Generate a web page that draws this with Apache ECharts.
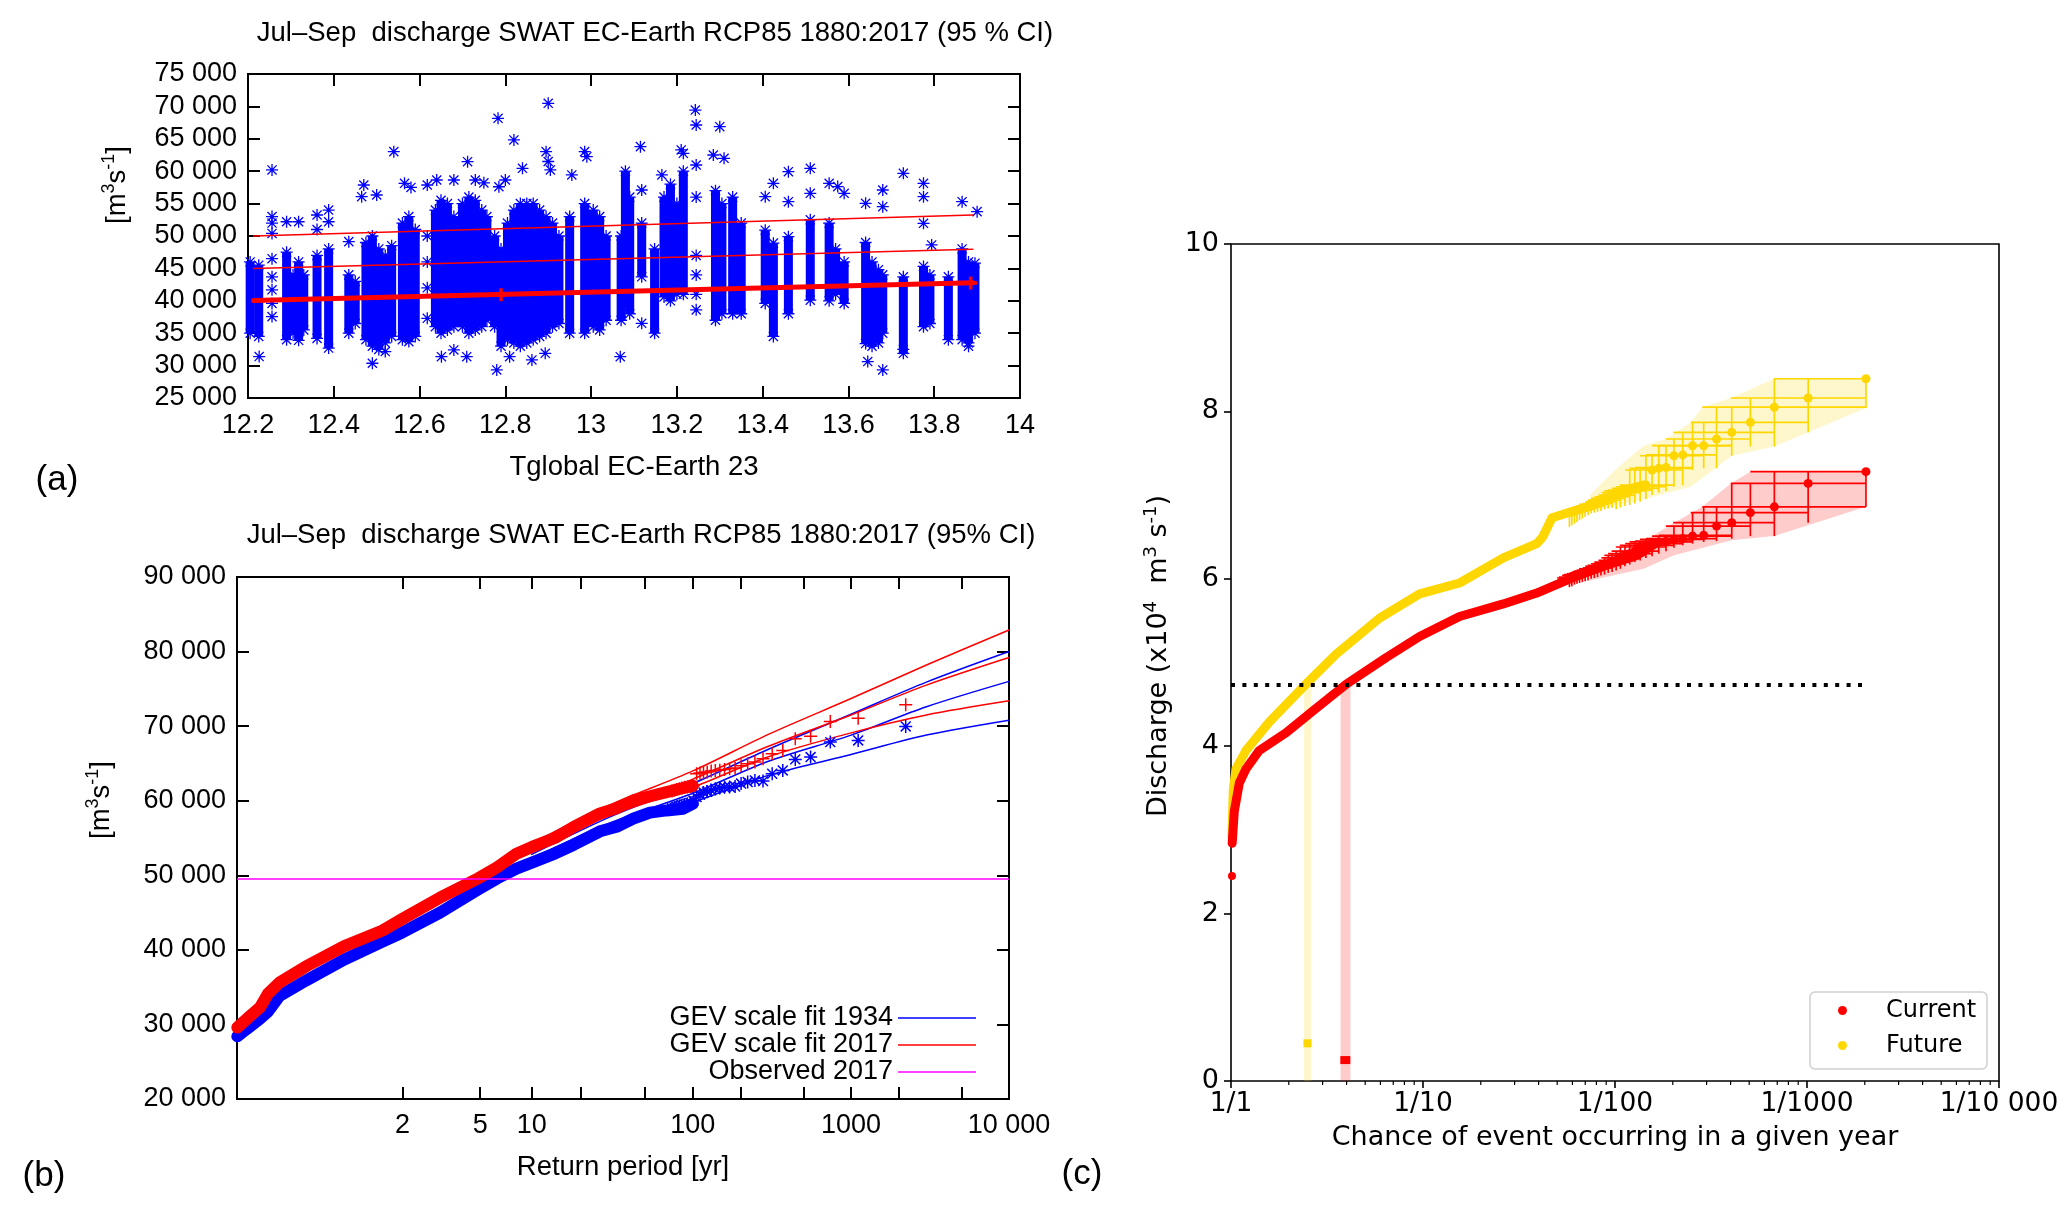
<!DOCTYPE html>
<html>
<head>
<meta charset="utf-8">
<title>Jul–Sep discharge</title>
<script src="https://cdn.jsdelivr.net/npm/echarts@6/dist/echarts.min.js"></script>
<style>
html,body{margin:0;padding:0;background:#ffffff;}
#chart{width:2067px;height:1218px;}
</style>
</head>
<body>
<div id="chart"></div>
<script>
// ================= Panel (a) data =================
const aXTicks = [12.2, 12.4, 12.6, 12.8, 13, 13.2, 13.4, 13.6, 13.8, 14];
const aYTicks = [25000, 30000, 35000, 40000, 45000, 50000, 55000, 60000, 65000, 70000, 75000];
// dense columns of ensemble members: x (Tglobal), lowest and highest value of the dense part
const aColX  = [12.205,12.225,12.29,12.305,12.318,12.33,12.361,12.388,12.435,12.45,12.475,12.49,12.505,12.52,12.535,12.56,12.575,12.59,12.637,12.65,12.665,12.68,12.70,12.715,12.73,12.745,12.757,12.775,12.79,12.805,12.82,12.835,12.85,12.865,12.88,12.895,12.91,12.925,12.95,12.985,13.005,13.02,13.035,13.07,13.08,13.09,13.118,13.148,13.17,13.185,13.2,13.215,13.29,13.305,13.33,13.35,13.406,13.425,13.46,13.511,13.555,13.57,13.59,13.64,13.655,13.67,13.68,13.728,13.775,13.79,13.833,13.865,13.88,13.895];
const aColLo = [35000,34500,34000,35000,33900,35500,34200,32700,35000,36500,34000,33000,32500,33500,34500,34000,33700,34500,36000,35000,35500,36000,36000,35000,35500,36000,37000,36000,33000,34000,33500,33000,33500,34000,34500,35000,36000,36500,35000,35000,36000,35500,37000,37000,40000,38000,43700,35000,40600,40000,41000,41000,37000,38000,38000,38000,39600,34500,38000,40100,40000,41000,39600,33400,33000,33500,35000,31900,36000,36500,34000,34000,33500,35000];
const aColHi = [46000,45500,47500,44000,46000,44000,47000,48000,44000,43000,49000,50000,48000,47000,48500,52000,53000,51000,54000,55500,55000,53000,55000,56000,55500,54000,53000,50000,48000,52000,54000,55000,55000,55000,54000,53000,52000,50000,53000,55000,54000,53000,50000,50000,60000,56000,52000,48000,56000,58000,55000,60000,57000,55000,56000,52000,50900,48900,49900,52500,52000,48000,46000,49000,46000,44800,44000,43700,45300,44000,43700,48000,46000,45800];
// individual (sparse / outlying) members
const aPtX = [12.226,12.256,12.256,12.256,12.256,12.256,12.256,12.256,12.256,12.256,12.29,12.318,12.361,12.361,12.388,12.388,12.435,12.47,12.465,12.5,12.54,12.49,12.52,12.565,12.58,12.618,12.618,12.618,12.618,12.618,12.64,12.651,12.68,12.68,12.712,12.71,12.73,12.75,12.783,12.78,12.785,12.8,12.81,12.82,12.84,12.862,12.893,12.895,12.9,12.9,12.905,12.955,12.985,12.99,13.068,13.115,13.118,13.118,13.165,13.21,13.215,13.243,13.245,13.245,13.245,13.245,13.245,13.245,13.245,13.285,13.3,13.31,13.406,13.425,13.46,13.46,13.511,13.511,13.555,13.575,13.59,13.64,13.68,13.68,13.645,13.68,13.728,13.728,13.775,13.775,13.775,13.794,13.865,13.9,13.88];
const aPtY = [31400,60190,53000,52000,50400,46500,43700,41700,39600,37560,52200,52200,53240,51000,54000,52200,49130,57870,56070,56330,63020,30360,32160,58130,57500,57870,50000,46000,42000,37300,58640,31380,32420,58640,61470,31380,58640,58200,68160,29330,57600,58640,31380,64820,60450,30870,31900,63020,70470,61500,60200,59420,63020,62240,31380,63790,57100,36530,59420,63280,62760,69440,67130,60960,56000,47000,44000,41000,38600,62500,66870,61990,56070,58130,59930,55300,60450,56590,58130,57620,56590,55040,57100,54530,30620,29330,59670,32500,58130,56070,51960,48620,55300,53760,33000];
// red regression lines
const aLineX = [12.213, 13.89];
const aLineCentral = [40030, 42800];
const aLineMiddle = [45000, 47950];
const aLineUpper = [50000, 53250];
const aMarkX = [12.79, 13.885];
const aMarkY = [40950, 42750];

// ================= Panel (b) data =================
const bTickT = [2, 5, 10, 20, 50, 100, 200, 500, 1000, 2000, 5000, 10000];
const bLabelT = [2, 5, 10, 100, 1000, 10000];
const bYTicks = [20000, 30000, 40000, 50000, 60000, 70000, 80000, 90000];
const bTMin = 1.000433, bTMax = 10000;
const bDenseT = [1.00045,1.001,1.0015,1.004,1.0072,1.0155,1.063,1.247,1.655,1.984,3.025,4.873,6.27,8.11,10.02,13.79,18.04,26.2,33.2,42.2,53.7,68.3,86.8,100];
const bDenseRed = [29600,30500,31000,32300,34100,35600,37800,40500,42600,44100,47000,49600,51100,52900,53800,55000,56500,58300,59000,60040,60600,61160,61700,62000];
const bDenseBlue = [28400,29200,29600,30800,31700,33800,35900,38700,41100,42300,45000,48100,49600,50900,51700,52900,54100,55900,56500,57590,58400,58700,58930,59600];
const bTailT = [2218,1109,739,554.5,443.6,369.7,316.9,277.3,246.4,221.8,201.6,184.8,170.6,158.4,147.9,138.6,130.5,123.2,116.7,110.9,105.6,100.8,96.4,92.4,88.7,85.3,82.1,79.2,76.5,73.9];
const bTailRed = [72860,71070,70630,68660,68300,66740,66300,65630,65180,64960,64700,64400,64300,64200,64100,64050,64000,63850,63800,63700,63600,62000,61900,61850,61800,61700,61600,61500,61400,61300];
const bTailBlue = [69960,68080,67860,65850,65540,64060,63620,62630,62720,62500,62300,61900,61850,61800,61700,61600,61400,61200,61100,60800,60500,60000,59700,59600,59500,59400,59300,59200,59100,59000];
const bFitT = [10, 30, 100, 300, 1000, 3000, 10000];
const bRedHi  = [54300,59400,64000,68900,73700,78200,82900];
const bRedMid = [53800,58600,62900,67300,71500,75500,79200];
const bRedLo  = [53200,58000,61800,65900,69100,71500,73400];
const bBlueHi  = [52800,57800,62300,66900,71600,75900,80000];
const bBlueMid = [52300,57000,61000,65300,68800,72600,76000];
const bBlueLo  = [51800,56300,59800,63400,66200,68800,70800];
const bObserved = 49500;

// ================= Panel (c) data =================
const cXTicks = [1, 10, 100, 1000, 10000];
const cXMinor = [2,3,4,5,6,7,8,9,20,30,40,50,60,70,80,90,200,300,400,500,600,700,800,900,2000,3000,4000,5000,6000,7000,8000,9000];
const cYTicks = [0, 2, 4, 6, 8, 10];
const cRedDenseT = [1.014,1.04,1.105,1.198,1.405,1.936,2.667,3.98,6.44,9.6,15.5,26.2,39.1,58.3,86.9,130,165];
const cRedDense  = [2.84,3.22,3.56,3.73,3.95,4.16,4.42,4.74,5.06,5.31,5.55,5.70,5.83,6.00,6.15,6.28,6.43];
const cRedLowT = [1.012];
const cRedLow  = [2.45];
const cGoldDenseT = [1.012,1.028,1.062,1.198,1.585,2.45,3.53,5.94,9.6,15.5,26.2,39.1,42,47,74,110,141];
const cGoldDense  = [2.92,3.48,3.73,3.95,4.29,4.74,5.10,5.53,5.82,5.95,6.25,6.42,6.50,6.73,6.87,7.05,7.12];
// ranked tail (return period = N/rank) with confidence bars
const cTailT = [2028,1014,676,507,405.6,338,289.7,253.5,225.3,202.8,184.4,169,156,144.9,135.2,126.8,119.3,112.7,106.7,101.4,96.6,92.2,88.2,84.5,81.1,78.0,75.1,72.4,69.9,67.6,65.4,63.4,61.5,59.6,57.9];
const cTailTLo = [673,401,285,248,201,184,169,156,145,135,127,119,113,106,101,96,92,88,85,82,78,75,72,70,68,65,63,61,60,58,56,54,53,51,50];
const cTailTHi = [2028,2028,2028,1014,676,507,406,406,338,290,254,254,225,203,184,169,156,145,135,127,119,113,107,101,97,92,88,85,81,78,75,72,70,68,66];
const cGoldTail = [8.39,8.16,8.05,7.87,7.75,7.67,7.59,7.59,7.48,7.47,7.33,7.32,7.30,7.12,7.10,7.08,7.06,7.05,7.03,7.00,6.98,6.96,6.94,6.92,6.90,6.89,6.87,6.86,6.85,6.84,6.83,6.82,6.81,6.80,6.79];
const cGoldVLo  = [8.04,7.75,7.58,7.58,7.47,7.32,7.32,7.30,7.12,7.10,7.05,7.03,7.00,6.95,6.92,6.90,6.88,6.87,6.85,6.83,6.85,6.84,6.83,6.81,6.80,6.79,6.78,6.76,6.74,6.72,6.70,6.68,6.66,6.64,6.62];
const cGoldVHi  = [8.39,8.39,8.39,8.16,8.05,8.05,7.87,7.87,7.75,7.67,7.59,7.59,7.48,7.47,7.33,7.32,7.30,7.12,7.10,7.08,7.06,7.05,7.03,7.00,6.98,6.96,6.94,6.92,6.90,6.89,6.87,6.86,6.85,6.84,6.83];
const cRedTLo  = [507,401,285,248,201,184,169,156,145,135,127,119,113,106,101,96,92,88,85,82,78,75,72,70,68,65,63,61,60,58,56,54,53,51,50];
const cRedTail = [7.28,7.14,6.86,6.79,6.67,6.63,6.52,6.51,6.48,6.47,6.45,6.44,6.42,6.40,6.38,6.33,6.30,6.28,6.25,6.22,6.20,6.18,6.16,6.15,6.13,6.12,6.10,6.09,6.08,6.07,6.06,6.05,6.04,6.02,6.01];
const cRedVLo  = [6.86,6.67,6.51,6.51,6.48,6.45,6.44,6.42,6.40,6.37,6.33,6.30,6.27,6.25,6.22,6.20,6.17,6.15,6.12,6.10,6.08,6.07,6.05,6.04,6.02,6.01,6.00,5.98,5.97,5.96,5.95,5.94,5.93,5.91,5.90];
const cRedVHi  = [7.28,7.28,7.28,7.14,7.14,6.86,6.86,6.79,6.67,6.63,6.52,6.51,6.48,6.47,6.45,6.44,6.42,6.40,6.38,6.33,6.30,6.28,6.25,6.22,6.20,6.18,6.16,6.15,6.13,6.12,6.10,6.09,6.08,6.07,6.06];
const cGoldBandHiT = [74,100,141,184,248,285,401,673,2028];
const cGoldBandHi  = [7.0,7.30,7.59,7.67,7.87,8.05,8.16,8.39,8.39];
const cGoldBandLoT = [74,141,248,406,676,2028];
const cGoldBandLo  = [6.80,6.95,7.10,7.47,7.58,8.04];
const cRedBandHiT = [74,100,141,203,285,401,507,2028];
const cRedBandHi  = [6.15,6.30,6.45,6.67,6.86,7.14,7.28,7.28];
const cRedBandLoT = [74,141,203,406,676,2028];
const cRedBandLo  = [5.98,6.12,6.28,6.46,6.51,6.86];
const cThreshold = 4.73;
const cThreshT = [1, 1950];
const cGoldCI = [2.40, 2.62];
const cRedCI = [3.72, 4.19];
const cGoldEst = [2.5, 0.45];
const cRedEst = [3.94, 0.25];

// ================= helpers =================
const GNU = 'Liberation Sans, Arial, sans-serif';
const MPL = 'DejaVu Sans, sans-serif';
const BLK = '#000000';
const RED = '#ff0000', BLUE = '#0000ff', GOLD = '#ffd700', MAG = '#ff00ff';
const STAR = 'path://M5 0L5 10M0 5L10 5M1.2 1.2L8.8 8.8M1.2 8.8L8.8 1.2';
const PLUS = 'path://M5 0L5 10M0 5L10 5';
const fmt = v => String(v).replace(/\B(?=(\d{3})+(?!\d))/g, ' ');
const fmt5 = v => (v >= 10000 ? fmt(v) : String(v));
const gum = T => -Math.log(-Math.log(1 - 1 / T));
const invGum = g => 1 / (1 - Math.exp(-Math.exp(-g)));
const zip = (xs, ys) => xs.map((x, i) => [x, ys[i]]);
const zipG = (ts, ys) => ts.map((t, i) => [gum(t), ys[i]]);

const gnuTick = {show: true, inside: true, length: 12, lineStyle: {color: BLK, width: 2}};
const noLine = {show: false, onZero: false};
const noSplit = {show: false};

function sym(data, symbol, size, color, bw, xi, yi, z) {
  return {type: 'scatter', xAxisIndex: xi, yAxisIndex: yi, data: data, symbol: symbol,
    symbolSize: size, symbolKeepAspect: true, silent: true, z: z || 3,
    itemStyle: {color: 'rgba(0,0,0,0)', borderColor: color, borderWidth: bw, opacity: 1}};
}
function line(data, color, width, xi, yi, z, extra) {
  return Object.assign({type: 'line', xAxisIndex: xi, yAxisIndex: yi, data: data, showSymbol: false,
    symbol: 'none', silent: true, z: z || 3,
    lineStyle: {color: color, width: width, cap: 'round', join: 'round'}}, extra || {});
}
function poly(hiT, hiV, loT, loV, color) {
  return {type: 'custom', xAxisIndex: 4, yAxisIndex: 4, silent: true, clip: false, z: 1,
    data: [[hiT[0], hiV[0]]], encode: {x: 0, y: 1},
    renderItem: function (params, api) {
      const pts = [];
      hiT.forEach((t, i) => pts.push(api.coord([t, hiV[i]])));
      for (let i = loT.length - 1; i >= 0; i--) pts.push(api.coord([loT[i], loV[i]]));
      return {type: 'polygon', shape: {points: pts}, style: {fill: color}};
    }};
}
function errBars(T, V, tl, th, vl, vh, color) {
  return {type: 'custom', xAxisIndex: 4, yAxisIndex: 4, silent: true, clip: false, z: 4,
    data: T.map((t, i) => [t, V[i], tl[i], th[i], vl[i], vh[i]]),
    encode: {x: [0, 2, 3], y: [1, 4, 5]},
    renderItem: function (params, api) {
      const t = api.value(0), v = api.value(1);
      const a = api.coord([api.value(2), v]), b = api.coord([api.value(3), v]);
      const c = api.coord([t, api.value(4)]), d = api.coord([t, api.value(5)]);
      return {type: 'group', children: [
        {type: 'line', shape: {x1: a[0], y1: a[1], x2: b[0], y2: b[1]}, style: {stroke: color, lineWidth: 1.7}},
        {type: 'line', shape: {x1: c[0], y1: c[1], x2: d[0], y2: d[1]}, style: {stroke: color, lineWidth: 1.7}}
      ]};
    }};
}

const series = [];
// ---------- panel (a) ----------
series.push({type: 'custom', xAxisIndex: 0, yAxisIndex: 0, silent: true, z: 2,
  data: aColX.map((x, i) => [x, aColLo[i], aColHi[i]]), encode: {x: 0, y: [1, 2]},
  renderItem: function (params, api) {
    const top = api.coord([api.value(0), api.value(2)]);
    const bot = api.coord([api.value(0), api.value(1)]);
    return {type: 'rect', shape: {x: top[0] - 4.5, y: top[1], width: 9, height: bot[1] - top[1]},
      style: {fill: BLUE}};
  }});
series.push(sym(aColX.map((x, i) => [x, aColLo[i]]).concat(aColX.map((x, i) => [x, aColHi[i]])), STAR, 12, BLUE, 1.3, 0, 0, 3));
series.push(sym(zip(aPtX, aPtY), STAR, 12, BLUE, 1.3, 0, 0, 3));
series.push(line(zip(aLineX, aLineUpper), RED, 1.5, 0, 0, 5));
series.push(line(zip(aLineX, aLineMiddle), RED, 1.5, 0, 0, 5));
series.push(line(zip(aLineX, aLineCentral), RED, 5, 0, 0, 5));
series.push(sym(zip(aMarkX, aMarkY), PLUS, 13, RED, 3.5, 0, 0, 6));

// ---------- panel (b) ----------
[[bBlueHi, BLUE], [bBlueMid, BLUE], [bBlueLo, BLUE], [bRedHi, RED], [bRedMid, RED], [bRedLo, RED]].forEach(p => {
  series.push(line(zipG(bFitT, p[0]), p[1], 1.5, 2, 2, 2, {smooth: 0.3}));
});
series.push(line(zipG(bDenseT, bDenseBlue), BLUE, 12, 2, 2, 3));
series.push(sym(zipG(bTailT, bTailBlue), STAR, 13, BLUE, 1.5, 2, 2, 3));
series.push(line(zipG(bDenseT, bDenseRed), RED, 12, 2, 2, 4));
series.push(sym(zipG(bTailT, bTailRed), PLUS, 13, RED, 1.5, 2, 2, 4));
series.push(line([[gum(bTMin), bObserved], [gum(bTMax), bObserved]], MAG, 1.5, 2, 2, 6, {lineStyle: {color: MAG, width: 1.5, cap: 'butt'}}));

// ---------- panel (c) ----------
series.push(poly(cGoldBandHiT, cGoldBandHi, cGoldBandLoT, cGoldBandLo, 'rgba(255,215,0,0.2)'));
series.push(poly(cRedBandHiT, cRedBandHi, cRedBandLoT, cRedBandLo, 'rgba(255,0,0,0.2)'));
series.push({type: 'custom', xAxisIndex: 4, yAxisIndex: 4, silent: true, clip: false, z: 1,
  data: [[cGoldCI[0], cGoldCI[1], cThreshold, 0], [cRedCI[0], cRedCI[1], cThreshold, 1]],
  encode: {x: [0, 1], y: 2},
  renderItem: function (params, api) {
    const a = api.coord([api.value(0), api.value(2)]);
    const b = api.coord([api.value(1), 0]);
    const col = api.value(3) === 0 ? 'rgba(255,215,0,0.2)' : 'rgba(255,0,0,0.2)';
    return {type: 'rect', shape: {x: a[0], y: a[1], width: b[0] - a[0], height: b[1] - a[1]}, style: {fill: col}};
  }});
series.push(line(zip(cGoldDenseT, cGoldDense), GOLD, 9, 4, 4, 3));
series.push(line(zip(cRedDenseT, cRedDense), RED, 9, 4, 4, 3));
series.push({type: 'scatter', xAxisIndex: 4, yAxisIndex: 4, silent: true, z: 3, symbol: 'circle', symbolSize: 8,
  data: zip(cRedLowT, cRedLow), itemStyle: {color: RED, opacity: 1}});
series.push(errBars(cTailT, cGoldTail, cTailTLo, cTailTHi, cGoldVLo, cGoldVHi, GOLD));
series.push(errBars(cTailT, cRedTail, cRedTLo, cTailTHi, cRedVLo, cRedVHi, RED));
series.push({type: 'scatter', xAxisIndex: 4, yAxisIndex: 4, silent: true, z: 5, symbol: 'circle', symbolSize: 9,
  data: zip(cTailT, cGoldTail), itemStyle: {color: GOLD, opacity: 1}});
series.push({type: 'scatter', xAxisIndex: 4, yAxisIndex: 4, silent: true, z: 5, symbol: 'circle', symbolSize: 9,
  data: zip(cTailT, cRedTail), itemStyle: {color: RED, opacity: 1}});
series.push(line([[cThreshT[0], cThreshold], [cThreshT[1], cThreshold]], BLK, 4, 4, 4, 7,
  {lineStyle: {color: BLK, width: 4, type: [4, 7.4], cap: 'butt'}}));
series.push({type: 'scatter', xAxisIndex: 4, yAxisIndex: 4, silent: true, z: 6, symbol: 'rect', symbolSize: [8, 8],
  data: [cGoldEst], itemStyle: {color: GOLD, opacity: 1}});
series.push({type: 'scatter', xAxisIndex: 4, yAxisIndex: 4, silent: true, z: 6, symbol: 'rect', symbolSize: [10, 8],
  data: [cRedEst], itemStyle: {color: RED, opacity: 1}});
// minor log ticks (bottom, outward)
series.push({type: 'custom', xAxisIndex: 4, yAxisIndex: 4, silent: true, clip: false, z: 8,
  data: cXMinor.map(t => [t, 0]), encode: {x: 0, y: 1},
  renderItem: function (params, api) {
    const p = api.coord([api.value(0), 0]);
    return {type: 'line', shape: {x1: p[0], y1: p[1], x2: p[0], y2: p[1] + 4}, style: {stroke: BLK, lineWidth: 1.2}};
  }});

// ---------- axes ----------
const gnuLabel = {show: true, color: BLK, fontFamily: GNU, fontSize: 27, hideOverlap: false};
const xAxis = [
  {gridIndex: 0, type: 'value', position: 'bottom', min: aXTicks[0], max: aXTicks[aXTicks.length - 1],
    axisLine: noLine, axisTick: Object.assign({customValues: aXTicks}, gnuTick),
    axisLabel: Object.assign({margin: 14, customValues: aXTicks, formatter: v => String(Math.round(v * 10) / 10)}, gnuLabel),
    splitLine: noSplit},
  {gridIndex: 0, type: 'value', position: 'top', min: aXTicks[0], max: aXTicks[aXTicks.length - 1],
    axisLine: noLine, axisTick: Object.assign({customValues: aXTicks}, gnuTick), axisLabel: {show: false}, splitLine: noSplit},
  {gridIndex: 1, type: 'value', position: 'bottom', min: gum(bTMin), max: gum(bTMax), axisLine: noLine,
    axisTick: Object.assign({customValues: bTickT.map(gum)}, gnuTick),
    axisLabel: Object.assign({margin: 13, customValues: bLabelT.map(gum),
      formatter: v => fmt5(Math.round(invGum(v)))}, gnuLabel), splitLine: noSplit},
  {gridIndex: 1, type: 'value', position: 'top', min: gum(bTMin), max: gum(bTMax), axisLine: noLine,
    axisTick: Object.assign({customValues: bTickT.map(gum)}, gnuTick), axisLabel: {show: false}, splitLine: noSplit},
  {gridIndex: 2, type: 'log', logBase: 10, position: 'bottom', min: cXTicks[0], max: cXTicks[cXTicks.length - 1],
    axisLine: noLine, axisTick: {show: true, inside: false, length: 7, lineStyle: {color: BLK, width: 1.6}},
    axisLabel: {show: true, color: BLK, fontFamily: MPL, fontSize: 26.5, margin: 10, hideOverlap: false,
      formatter: v => '1/' + fmt5(Math.round(v))},
    splitLine: noSplit, minorTick: {show: false}}
];
const yAxis = [
  {gridIndex: 0, type: 'value', position: 'left', min: aYTicks[0], max: aYTicks[aYTicks.length - 1],
    interval: aYTicks[1] - aYTicks[0], axisLine: noLine, axisTick: gnuTick,
    axisLabel: Object.assign({margin: 11, formatter: v => fmt(v)}, gnuLabel), splitLine: noSplit},
  {gridIndex: 0, type: 'value', position: 'right', min: aYTicks[0], max: aYTicks[aYTicks.length - 1],
    interval: aYTicks[1] - aYTicks[0], axisLine: noLine, axisTick: gnuTick, axisLabel: {show: false}, splitLine: noSplit},
  {gridIndex: 1, type: 'value', position: 'left', min: bYTicks[0], max: bYTicks[bYTicks.length - 1],
    interval: bYTicks[1] - bYTicks[0], axisLine: noLine, axisTick: gnuTick,
    axisLabel: Object.assign({margin: 11, formatter: v => fmt(v)}, gnuLabel), splitLine: noSplit},
  {gridIndex: 1, type: 'value', position: 'right', min: bYTicks[0], max: bYTicks[bYTicks.length - 1],
    interval: bYTicks[1] - bYTicks[0], axisLine: noLine, axisTick: gnuTick, axisLabel: {show: false}, splitLine: noSplit},
  {gridIndex: 2, type: 'value', position: 'left', min: cYTicks[0], max: cYTicks[cYTicks.length - 1],
    interval: cYTicks[1] - cYTicks[0], axisLine: noLine,
    axisTick: {show: true, inside: false, length: 7, lineStyle: {color: BLK, width: 1.6}},
    axisLabel: {show: true, color: BLK, fontFamily: MPL, fontSize: 27, margin: 12, hideOverlap: false},
    splitLine: noSplit}
];

// ---------- texts ----------
function txt(x, y, text, size, family, align, rot, rich) {
  const st = {text: text, fill: BLK, fontSize: size, fontFamily: family,
    align: align || 'center', textAlign: align || 'center', verticalAlign: 'middle', textVerticalAlign: 'middle'};
  if (rich) st.rich = rich;
  return {type: 'text', x: x, y: y, rotation: rot || 0, silent: true, z: 100, style: st};
}
function supRich(size, family) {
  return {n: {fontSize: size, fontFamily: family, fill: BLK, lineHeight: size + 6, verticalAlign: 'middle'},
          s: {fontSize: Math.round(size * 0.66), fontFamily: family, fill: BLK, lineHeight: Math.round(size * 0.7), verticalAlign: 'top'}};
}
const graphic = [
  txt(655, 33, 'Jul–Sep  discharge SWAT EC-Earth RCP85 1880:2017 (95 % CI)', 27.5, GNU),
  txt(634, 467, 'Tglobal EC-Earth 23', 27.5, GNU),
  txt(117, 185, '{n|[m}{s|3}{n|s}{s|-1}{n|]}', 27.5, GNU, 'center', Math.PI / 2, supRich(27.5, GNU)),
  txt(57, 480, '(a)', 35, GNU),
  txt(641, 535, 'Jul–Sep  discharge SWAT EC-Earth RCP85 1880:2017 (95% CI)', 27.5, GNU),
  txt(623, 1167, 'Return period [yr]', 27.5, GNU),
  txt(101, 800, '{n|[m}{s|3}{n|s}{s|-1}{n|]}', 27.5, GNU, 'center', Math.PI / 2, supRich(27.5, GNU)),
  txt(44, 1176, '(b)', 35, GNU),
  txt(893, 1018, 'GEV scale fit 1934', 27, GNU, 'right'),
  txt(893, 1045, 'GEV scale fit 2017', 27, GNU, 'right'),
  txt(893, 1072, 'Observed 2017', 27, GNU, 'right'),
  {type: 'line', silent: true, z: 100, shape: {x1: 898, y1: 1018, x2: 976, y2: 1018}, style: {stroke: BLUE, lineWidth: 1.5}},
  {type: 'line', silent: true, z: 100, shape: {x1: 898, y1: 1045, x2: 976, y2: 1045}, style: {stroke: RED, lineWidth: 1.5}},
  {type: 'line', silent: true, z: 100, shape: {x1: 898, y1: 1072, x2: 976, y2: 1072}, style: {stroke: MAG, lineWidth: 1.5}},
  txt(1615, 1138, 'Chance of event occurring in a given year', 27, MPL),
  txt(1159, 656, '{n|Discharge (x10}{s|4}{n|  m}{s|3}{n| s}{s|-1}{n|)}', 27, MPL, 'center', Math.PI / 2, supRich(27, MPL)),
  txt(1082, 1174, '(c)', 35, GNU),
  {type: 'rect', silent: true, z: 100, shape: {x: 1810, y: 992, width: 177, height: 77, r: 5},
    style: {fill: 'rgba(255,255,255,0.85)', stroke: '#d0d0d0', lineWidth: 1.5}},
  {type: 'circle', silent: true, z: 101, shape: {cx: 1842.5, cy: 1010.5, r: 4.5}, style: {fill: RED}},
  {type: 'circle', silent: true, z: 101, shape: {cx: 1842.5, cy: 1045.5, r: 4.5}, style: {fill: GOLD}},
  txt(1886, 1010.5, 'Current', 24, MPL, 'left'),
  txt(1886, 1045.5, 'Future', 24, MPL, 'left')
];

const option = {
  animation: false,
  backgroundColor: '#ffffff',
  grid: [
    {left: 248, top: 74, width: 772, height: 324, show: true, borderColor: BLK, borderWidth: 2, backgroundColor: 'rgba(0,0,0,0)', outerBoundsMode: 'none', containLabel: false},
    {left: 237, top: 577, width: 772, height: 522, show: true, borderColor: BLK, borderWidth: 2, backgroundColor: 'rgba(0,0,0,0)', outerBoundsMode: 'none', containLabel: false},
    {left: 1231, top: 244, width: 768, height: 837, show: true, borderColor: BLK, borderWidth: 1.6, backgroundColor: 'rgba(0,0,0,0)', outerBoundsMode: 'none', containLabel: false}
  ],
  xAxis: xAxis,
  yAxis: yAxis,
  series: series,
  graphic: graphic
};
const chart = echarts.init(document.getElementById('chart'), null, {renderer: 'canvas', width: 2067, height: 1218});
chart.setOption(option);
</script>
</body>
</html>
